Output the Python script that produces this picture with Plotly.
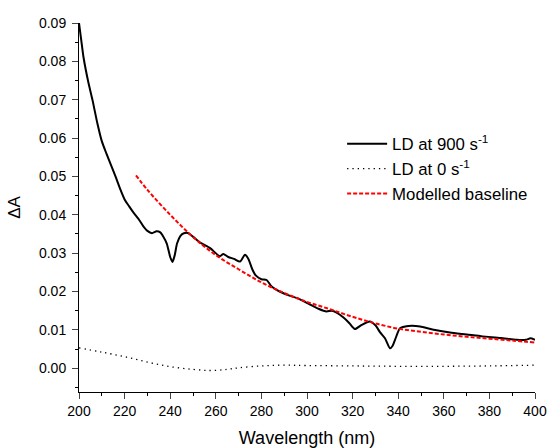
import plotly.graph_objects as go

# LD at 900 s^-1
wl_900 = [200, 201, 202, 204, 206, 208, 210, 212, 214, 216, 218, 220, 222, 224, 226, 228, 230, 232,
          234, 235.5, 237, 238.5, 240, 241, 242, 243, 244.5, 246, 248, 250, 253, 257.5, 261.8, 263.3,
          265.5, 268, 270.6, 272.8, 274.3, 276, 277.5, 280, 282.3, 284.5, 288, 292, 296, 301, 305,
          308.6, 310.8, 313, 316, 318.5, 321, 324, 327.5, 330, 332, 334.2, 336.4, 337.5, 338.6, 340.8,
          344.4, 349.6, 355, 362.7, 370, 377, 385, 392, 396, 398, 400]
ld_900 = [0.090, 0.0855, 0.0810, 0.0748, 0.0697, 0.0640, 0.0592, 0.0560, 0.0530, 0.0500, 0.0468, 0.0440,
          0.0422, 0.0405, 0.0390, 0.0372, 0.0358, 0.0352, 0.0357, 0.0355, 0.0343, 0.0325, 0.0290, 0.0277,
          0.0295, 0.0325, 0.0345, 0.0352, 0.0352, 0.0343, 0.0328, 0.0313, 0.0292, 0.0298, 0.0290, 0.0285,
          0.0278, 0.0296, 0.0285, 0.0258, 0.0242, 0.0232, 0.0230, 0.0213, 0.0200, 0.0190, 0.0182, 0.0167,
          0.0155, 0.0148, 0.0150, 0.0145, 0.0132, 0.0118, 0.0102, 0.0113, 0.0122, 0.0112, 0.0094, 0.0078,
          0.0052, 0.0058, 0.0074, 0.0104, 0.0110, 0.0109, 0.0101, 0.0093, 0.0088, 0.0083, 0.0079, 0.0074,
          0.0074, 0.0078, 0.0074]

# LD at 0 s^-1
wl_0 = [200, 210, 220, 230, 240, 250, 258, 265, 270, 280, 290, 300, 320, 340, 360, 380, 400]
ld_0 = [0.0053, 0.0042, 0.0030, 0.0016, 0.0004, -0.0003, -0.0006, -0.0003, 0.0001, 0.0006, 0.0008,
        0.0007, 0.0006, 0.0005, 0.0005, 0.0006, 0.0008]

# Modelled baseline
wl_base = [225, 230, 240, 250, 260, 270, 280, 290, 300, 310, 320, 330, 340, 350, 360, 370, 380, 390, 400]
base = [0.0503, 0.0465, 0.0400, 0.0342, 0.0295, 0.0258, 0.0224, 0.0196, 0.0173, 0.0154, 0.0134, 0.0117,
        0.0103, 0.0095, 0.0088, 0.0082, 0.0077, 0.0072, 0.0067]

x_ticks = [200, 220, 240, 260, 280, 300, 320, 340, 360, 380, 400]
y_ticks = [0.00, 0.01, 0.02, 0.03, 0.04, 0.05, 0.06, 0.07, 0.08, 0.09]

FONT = "Liberation Sans, Arial, sans-serif"

fig = go.Figure()
fig.add_trace(go.Scatter(x=wl_900, y=ld_900, mode="lines", name="LD at 900 s<sup>-1</sup>",
                         line=dict(color="black", width=2, shape="spline", smoothing=0.6)))
fig.add_trace(go.Scatter(x=wl_0, y=ld_0, mode="lines", name="LD at 0 s<sup>-1</sup>",
                         line=dict(color="black", width=1.3, dash="1.3px,4px", shape="spline")))
fig.add_trace(go.Scatter(x=wl_base, y=base, mode="lines", name="Modelled baseline",
                         line=dict(color="#ff0000", width=2, dash="4px,2px", shape="spline")))

fig.update_layout(
    width=547, height=448,
    margin=dict(l=79, r=12, t=23, b=56, autoexpand=False),
    paper_bgcolor="white", plot_bgcolor="white",
    font=dict(family=FONT, size=14, color="black"),
    showlegend=True,
    legend=dict(x=0.577, y=0.72, xanchor="left", yanchor="top",
                bgcolor="rgba(0,0,0,0)", font=dict(size=16.8, family=FONT),
                tracegroupgap=0, itemwidth=40),
    xaxis=dict(range=[200, 400], tickvals=x_ticks, ticks="outside", ticklen=6, tickwidth=1,
               showline=True, linecolor="black", linewidth=1, showgrid=False, zeroline=False,
               automargin=False,
               minor=dict(dtick=10, ticks="outside", ticklen=3, tickcolor="black"),
               title=dict(text="Wavelength (nm)", font=dict(size=18), standoff=13),
               tickfont=dict(size=14)),
    yaxis=dict(range=[-0.0062, 0.09], tickvals=y_ticks, tickformat=".2f", ticks="outside",
               ticklen=6, tickwidth=1, showline=True, linecolor="black", linewidth=1,
               showgrid=False, zeroline=False, automargin=False, ticklabelstandoff=3,
               minor=dict(dtick=0.005, tick0=0, ticks="outside", ticklen=3, tickcolor="black"),
               title=dict(text="ΔA", font=dict(size=17), standoff=14),
               tickfont=dict(size=14)),
)

fig.write_html("out.html", config={"displayModeBar": False},
               post_script="document.body.style.margin='0';document.body.style.overflow='hidden';")
